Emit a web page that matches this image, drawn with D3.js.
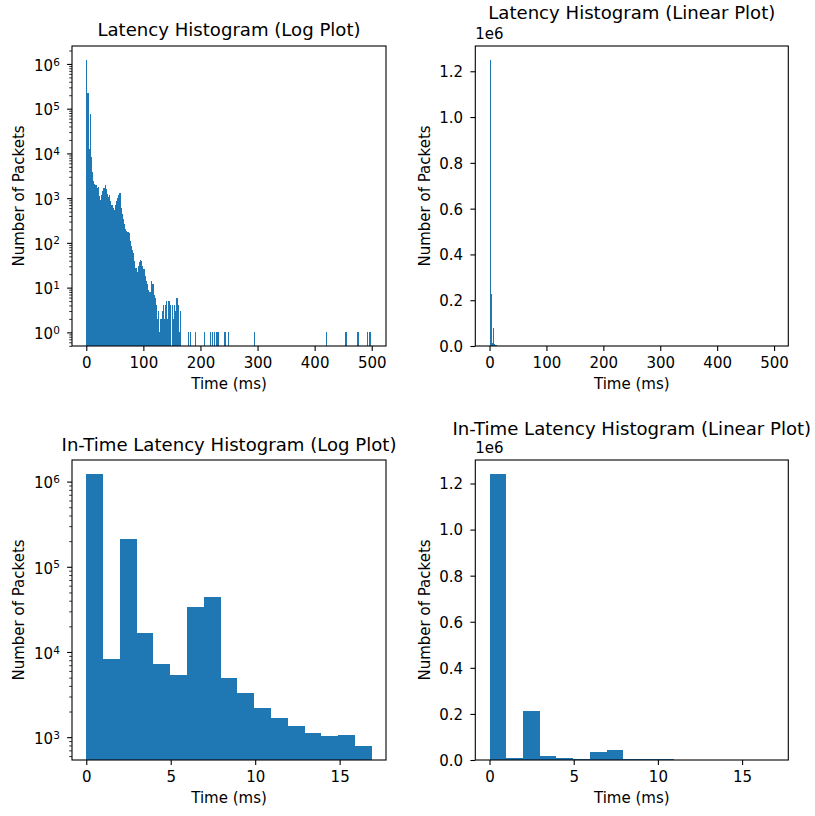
<!DOCTYPE html>
<html>
<head>
<meta charset="utf-8">
<script src="https://cdn.jsdelivr.net/npm/d3@7"></script>
<style>
  body { margin: 0; background: #fff; }
  svg text { font-family: "DejaVu Sans", sans-serif; fill: #000; }
</style>
</head>
<body>
<svg id="chart" width="815" height="816"></svg>
<script>
// all packets: 2 ms bins from 0 ms, dense part (bins 0..82)
const allBinWidth = 2;
const allRange = [0, 500];
const allCounts = [
  1248000, 229000, 12700, 77000, 8300, 3860, 2480, 2090, 2000, 1700,
  1800, 1100, 900, 1200, 1450, 1700, 1950, 1600, 1250, 1050,
  1150, 850, 700, 600, 550, 700, 850, 1000, 1150, 1300,
  600, 450, 350, 260, 200, 180, 175, 165, 110, 85,
  70, 60, 40, 28, 22, 30, 38, 42, 40, 30,
  26, 18, 14, 12, 9, 8, 8, 14, 12, 7,
  6, 4, 2, 3, 1, 2, 3, 4, 2, 4,
  5, 2, 5, 4, 0, 4, 2, 4, 3, 6,
  4, 1, 3
];
// isolated late packets (bin start in ms, one packet each)
const allSparseStarts = [178, 182, 190, 206, 216, 220, 224, 228, 230, 242, 248, 294, 420, 454, 474, 476, 492, 496];
const allSparseCounts = [1, 1, 1, 1, 1, 1, 1, 1, 1, 1, 1, 1, 1, 1, 1, 1, 1, 1];

// in-time packets: 17 bins between 0 and 16.9 ms
const inTimeRange = [0, 16.9];
const inTimeCounts = [1240000, 8300, 212000, 16900, 7300, 5400, 33300, 43700, 5000, 3290, 2190, 1670, 1370, 1110, 1020, 1070, 780];

const allXTicks = [0, 100, 200, 300, 400, 500];
const inTimeXTicks = [0, 5, 10, 15];
const linearYTicks = [0, 200000, 400000, 600000, 800000, 1000000, 1200000];

const svg = d3.select("#chart");
const barColor = "#1f77b4";
const tickFont = 15, titleFont = 18.1;

const allBins = allCounts.map((c, i) => ({ x0: i * allBinWidth, x1: (i + 1) * allBinWidth, count: c }))
  .concat(allSparseStarts.map((s, i) => ({ x0: s, x1: s + allBinWidth, count: allSparseCounts[i] })));
const inTimeWidth = (inTimeRange[1] - inTimeRange[0]) / inTimeCounts.length;
const inTimeBins = inTimeCounts.map((c, i) => ({ x0: inTimeRange[0] + i * inTimeWidth, x1: inTimeRange[0] + (i + 1) * inTimeWidth, count: c }));

// matplotlib style 5% margins
const padded = ([a, b]) => [a - (b - a) * 0.05, b + (b - a) * 0.05];

function drawPanel(p, bins, xExtent, xTicks, logY, idx) {
  const g = svg.append("g");
  const bottom = p.top + p.height;
  const x = d3.scaleLinear().domain(padded(xExtent)).range([p.left, p.left + p.width]);
  const counts = bins.map(d => d.count).filter(c => c > 0);
  let y;
  if (logY) {
    const [lo, hi] = padded([Math.log10(d3.min(counts)), Math.log10(d3.max(counts))]);
    y = d3.scaleLog().domain([10 ** lo, 10 ** hi]).range([bottom, p.top]);
  } else {
    y = d3.scaleLinear().domain([0, d3.max(counts) * 1.05]).range([bottom, p.top]);
  }

  g.append("clipPath").attr("id", "clip" + idx)
    .append("rect").attr("x", p.left).attr("y", p.top).attr("width", p.width).attr("height", p.height);

  g.append("g").attr("clip-path", `url(#clip${idx})`)
    .attr("shape-rendering", "crispEdges")
    .selectAll("rect")
    .data(bins.filter(d => d.count > 0))
    .join("rect")
    .attr("x", d => x(d.x0))
    .attr("width", d => x(d.x1) - x(d.x0))
    .attr("y", d => y(d.count))
    .attr("height", d => bottom - y(d.count))
    .attr("fill", barColor);

  // x axis
  const xa = g.append("g").attr("transform", `translate(0,${bottom})`)
    .call(d3.axisBottom(x).tickValues(xTicks).tickSize(4.9).tickPadding(6.7).tickFormat(d3.format("d")));
  xa.select(".domain").remove();
  xa.selectAll(".tick line").attr("stroke", "#000").attr("stroke-width", 1.1);
  xa.selectAll("text").attr("font-size", tickFont);

  // y axis
  if (logY) {
    const [d0, d1] = y.domain();
    const majors = d3.range(Math.ceil(Math.log10(d0)), Math.floor(Math.log10(d1)) + 1).map(e => 10 ** e);
    const minors = [];
    for (let k = Math.floor(Math.log10(d0)); k <= Math.ceil(Math.log10(d1)); k++) {
      for (let m = 2; m <= 9; m++) {
        const v = m * 10 ** k;
        if (v >= d0 && v <= d1) minors.push(v);
      }
    }
    const ym = g.append("g").attr("transform", `translate(${p.left},0)`)
      .call(d3.axisLeft(y).tickValues(minors).tickSize(2.8).tickFormat(""));
    ym.select(".domain").remove();
    ym.selectAll(".tick line").attr("stroke", "#000").attr("stroke-width", 0.8);

    const ya = g.append("g").attr("transform", `translate(${p.left},0)`)
      .call(d3.axisLeft(y).tickValues(majors).tickSize(4.9).tickPadding(7.3).tickFormat(""));
    ya.select(".domain").remove();
    ya.selectAll(".tick line").attr("stroke", "#000").attr("stroke-width", 1.1);
    ya.selectAll(".tick text").attr("font-size", tickFont).attr("dy", "0.42em")
      .each(function (d) {
        const t = d3.select(this);
        t.append("tspan").text("10");
        t.append("tspan").attr("dy", "-0.5em").attr("font-size", 10.5).text(Math.round(Math.log10(d)));
      });
  } else {
    const ya = g.append("g").attr("transform", `translate(${p.left},0)`)
      .call(d3.axisLeft(y).tickValues(linearYTicks).tickSize(4.9).tickPadding(7.3).tickFormat(d => (d / 1e6).toFixed(1)));
    ya.select(".domain").remove();
    ya.selectAll(".tick line").attr("stroke", "#000").attr("stroke-width", 1.1);
    ya.selectAll("text").attr("font-size", tickFont).attr("dy", "0.36em");
    g.append("text").attr("x", p.left).attr("y", p.top - 6.7).attr("font-size", tickFont).text("1e6");
  }

  // spines
  g.append("rect").attr("x", p.left).attr("y", p.top).attr("width", p.width).attr("height", p.height)
    .attr("fill", "none").attr("stroke", "#000").attr("stroke-width", 1.1);

  g.append("text").attr("x", p.left + p.width / 2).attr("y", p.titleY)
    .attr("text-anchor", "middle").attr("font-size", titleFont).text(p.title);
  g.append("text").attr("x", p.left + p.width / 2).attr("y", bottom + 42.5)
    .attr("text-anchor", "middle").attr("font-size", tickFont).text("Time (ms)");
  g.append("text").attr("transform", `translate(${p.labelX},${p.top + p.height / 2}) rotate(-90)`)
    .attr("text-anchor", "middle").attr("dy", "0.36em").attr("font-size", tickFont).text("Number of Packets");
}

drawPanel({ left: 72, top: 46, width: 314, height: 300, titleY: 36, labelX: 19, title: "Latency Histogram (Log Plot)" },
  allBins, allRange, allXTicks, true, 0);
drawPanel({ left: 475.3, top: 46, width: 313, height: 300, titleY: 19, labelX: 425, title: "Latency Histogram (Linear Plot)" },
  allBins, allRange, allXTicks, false, 1);
drawPanel({ left: 72, top: 460, width: 314, height: 300, titleY: 450.7, labelX: 19, title: "In-Time Latency Histogram (Log Plot)" },
  inTimeBins, inTimeRange, inTimeXTicks, true, 2);
drawPanel({ left: 475.3, top: 460, width: 313, height: 300, titleY: 435, labelX: 425, title: "In-Time Latency Histogram (Linear Plot)" },
  inTimeBins, inTimeRange, inTimeXTicks, false, 3);
</script>
</body>
</html>
